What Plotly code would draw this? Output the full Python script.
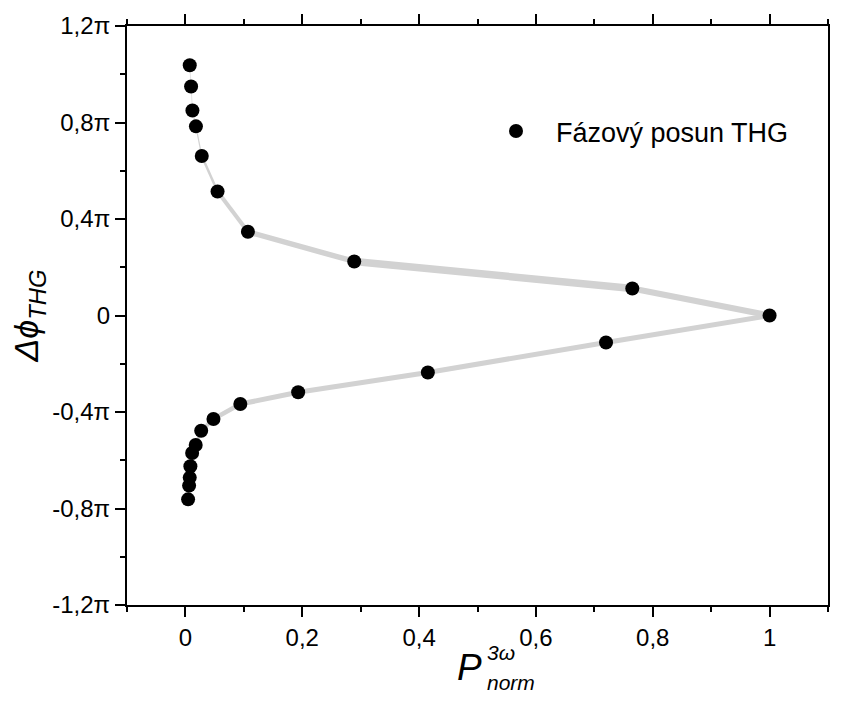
import plotly.graph_objects as go

# Normalised third-harmonic power and THG phase shift (in units of pi),
# ordered along the curve from the top branch through the peak to the bottom branch.
p_norm = [0.0074, 0.0097, 0.012, 0.018, 0.028, 0.055, 0.107, 0.289, 0.765,
          1.0,
          0.720, 0.415, 0.193, 0.094, 0.048, 0.027, 0.0176, 0.0115, 0.0085,
          0.0074, 0.0063, 0.0046]
phase_pi = [1.037, 0.949, 0.850, 0.784, 0.661, 0.514, 0.347, 0.224, 0.112,
            0.0,
            -0.112, -0.236, -0.318, -0.367, -0.429, -0.478, -0.537, -0.570, -0.625,
            -0.672, -0.705, -0.762]

series_name = "Fázový posun THG"

y_tickvals = [-1.2, -0.8, -0.4, 0, 0.4, 0.8, 1.2]
y_ticktext = ["-1,2π", "-0,8π", "-0,4π", "0", "0,4π", "0,8π", "1,2π"]

# Width of the grey connecting band between consecutive points (px)
seg_widths = [0.6, 0.6, 0.8, 1.2, 2.5, 4, 5.5, 7.5, 6,
              5, 5, 5, 5, 4.5, 4, 3.5, 3, 2.5, 2, 1.5, 1]

FONT = "Liberation Sans, Arial, Helvetica, sans-serif"

# plot-area geometry in pixels (used for placing the stacked axis title)
L, R, T, B = 127, 21, 23, 99
W, H = 849, 704
PW, PH = W - L - R, H - T - B


def px_x(px):
    return (px - L) / PW


def px_y(py):
    return (H - B - py) / PH


fig = go.Figure()

for i in range(len(p_norm) - 1):
    fig.add_trace(go.Scatter(
        x=p_norm[i:i + 2], y=phase_pi[i:i + 2], mode="lines",
        line=dict(color="#d2d2d2", width=seg_widths[i]),
        showlegend=False, hoverinfo="skip"))

fig.add_trace(go.Scatter(
    x=p_norm, y=phase_pi, mode="markers", name=series_name,
    marker=dict(color="black", size=14, line=dict(width=0))))

axis_common = dict(
    showgrid=False, zeroline=False, showline=True, linecolor="black",
    linewidth=2, ticks="outside", tickcolor="black", tickwidth=2, ticklen=10,
    tickfont=dict(family=FONT, size=24, color="black"),
)

fig.update_xaxes(
    **axis_common, range=[-0.1, 1.1], dtick=0.2, tick0=0, mirror="ticks",
    minor=dict(dtick=0.1, tick0=0, ticks="outside", ticklen=5,
               tickcolor="black", tickwidth=2),
)
fig.update_yaxes(
    **axis_common, range=[-1.2, 1.2], tickvals=y_tickvals, ticktext=y_ticktext,
    mirror=True,
    minor=dict(dtick=0.2, tick0=0, ticks="outside", ticklen=5,
               tickcolor="black", tickwidth=2),
    title=dict(text="<i>Δϕ<sub>THG</sub></i>", standoff=3,
               font=dict(family=FONT, size=34, color="black")),
)

# x-axis title with stacked super- and subscript
fig.add_annotation(text="<i>P</i>", xref="paper", yref="paper",
                   x=px_x(469), y=px_y(668),
                   xanchor="center", yanchor="middle", showarrow=False,
                   font=dict(family=FONT, size=37, color="black"))
fig.add_annotation(text="<i>3ω</i>", xref="paper", yref="paper",
                   x=px_x(485), y=px_y(653),
                   xanchor="left", yanchor="middle", showarrow=False,
                   font=dict(family=FONT, size=21, color="black"))
fig.add_annotation(text="<i>norm</i>", xref="paper", yref="paper",
                   x=px_x(485), y=px_y(683),
                   xanchor="left", yanchor="middle", showarrow=False,
                   font=dict(family=FONT, size=21, color="black"))

fig.update_layout(
    width=W, height=H,
    margin=dict(l=L, r=R, t=T, b=B),
    paper_bgcolor="white", plot_bgcolor="white",
    separators=", ",
    font=dict(family=FONT, color="black"),
    legend=dict(x=px_x(476), y=px_y(129), xanchor="left",
                yanchor="middle", bgcolor="rgba(0,0,0,0)",
                font=dict(family=FONT, size=27, color="black"),
                itemwidth=70),
    showlegend=True,
)

fig.write_html("out.html")
